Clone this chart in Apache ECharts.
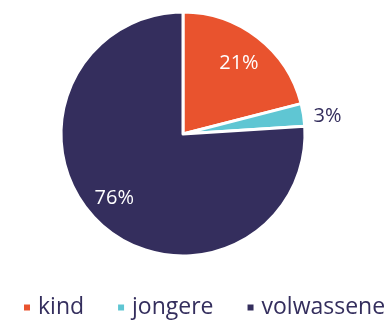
<!DOCTYPE html>
<html>
<head>
<meta charset="utf-8">
<style>
  html, body { margin: 0; padding: 0; background: #fff; }
  #chart { width: 389px; height: 321px; }
</style>
<script src="https://cdn.jsdelivr.net/npm/echarts@6/dist/echarts.min.js"></script>
</head>
<body>
<div id="chart"></div>
<script>
// Age groups and their share of the total (percent)
const categories = ['kind', 'jongere', 'volwassene'];
const shares = [21, 3, 76];
const colors = ['#E9532E', '#5FC6D3', '#342E5D'];

const FONT = '"Open Sans"';
const cx = 183, cy = 134, R = 122;

// small nudges for the value labels
const labelNudge = [[-2, 4], [-3, 2], [-4, -5]];

const slices = categories.map((name, i) => ({ name, value: shares[i] }));

// label ring: same slices, transparent, so inside labels sit at ~3/4 radius
const labelSlices = categories.map((name, i) => {
  const small = shares[i] < 10;
  return {
    name,
    value: shares[i],
    label: small
      ? { position: 'outside', color: '#342E5D', offset: labelNudge[i] }
      : { position: 'inside', color: '#ffffff', offset: labelNudge[i] },
    labelLine: { show: false, length: 4, length2: 4 }
  };
});

const chart = echarts.init(document.getElementById('chart'), null, { renderer: 'canvas' });
chart.setOption({
  animation: false,
  color: colors,
  legend: {
    data: categories,
    orient: 'horizontal',
    left: 17,
    top: 291,
    width: 700,
    icon: 'rect',
    itemWidth: 8,
    itemHeight: 8,
    itemGap: 32,
    textStyle: { fontFamily: FONT, fontSize: 23, color: '#342E5D', padding: [0, 0, 0, 2] }
  },
  series: [
    {
      type: 'pie',
      center: [cx, cy],
      radius: [0, R],
      startAngle: 90,
      clockwise: true,
      silent: true,
      label: { show: false },
      labelLine: { show: false },
      itemStyle: { borderColor: '#ffffff', borderWidth: 3 },
      data: slices
    },
    {
      type: 'pie',
      center: [cx, cy],
      radius: [R / 2, R],
      startAngle: 90,
      clockwise: true,
      silent: true,
      legendHoverLink: false,
      itemStyle: { color: 'rgba(0,0,0,0)', borderWidth: 0 },
      label: {
        show: true,
        formatter: '{c}%',
        fontFamily: FONT,
        fontSize: 20
      },
      data: labelSlices
    }
  ]
});
</script>
</body>
</html>
